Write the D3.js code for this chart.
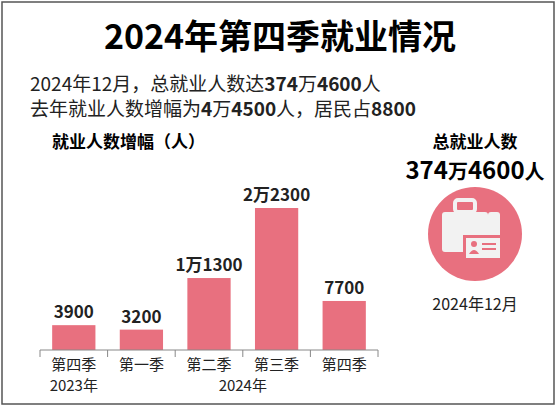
<!DOCTYPE html>
<html><head><meta charset="utf-8">
<script src="https://cdn.jsdelivr.net/npm/d3@7"></script>
<style>
body{margin:0;background:#fff;font-family:"Noto Sans CJK SC",sans-serif;}
</style></head><body>
<svg id="c" width="560" height="410"></svg>
<script>
const categories = ["第四季", "第一季", "第二季", "第三季", "第四季"];
const values = [3900, 3200, 11300, 22300, 7700];
const valueLabels = ["3900", "3200", "1万1300", "2万2300", "7700"];
const yearLabels = [{text: "2023年", from: 0, to: 0}, {text: "2024年", from: 1, to: 4}];

const svg = d3.select("#c");
const pink = "#e8707f";
const font = "Noto Sans CJK SC";

// frame
svg.append("rect").attr("x", 2).attr("y", 2).attr("width", 552).attr("height", 402)
  .attr("fill", "#fff").attr("stroke", "#555").attr("stroke-width", 1.5);

svg.append("text").attr("x", 280).attr("y", 49).attr("text-anchor", "middle")
  .attr("font-family", font).attr("font-size", 34).attr("font-weight", 700)
  .text("2024年第四季就业情况");

function richLine(y, parts) {
  let t = svg.append("text").attr("x", 30).attr("y", y)
    .attr("font-family", font).attr("font-size", 19).attr("fill", "#222");
  parts.forEach(p => t.append("tspan").attr("font-weight", p[1] ? 700 : 400).text(p[0]));
}
richLine(91, [["2024年12月，总就业人数达", 0], ["374", 1], ["万", 0], ["4600", 1], ["人", 0]]);
richLine(116, [["去年就业人数增幅为", 0], ["4", 1], ["万", 0], ["4500", 1], ["人，居民占", 0], ["8800", 1]]);

svg.append("text").attr("x", 52).attr("y", 148).attr("font-family", font)
  .attr("font-size", 17).attr("font-weight", 700).text("就业人数增幅（人）");

const x = d3.scaleBand().domain(d3.range(values.length)).range([40, 378]).paddingInner(0.36).paddingOuter(0.18);
const y = d3.scaleLinear().domain([0, 22300]).range([350, 208]);

svg.selectAll("rect.bar").data(values).enter().append("rect").attr("class", "bar")
  .attr("x", (d, i) => x(i)).attr("width", x.bandwidth())
  .attr("y", d => y(d)).attr("height", d => y(0) - y(d)).attr("fill", pink);

svg.selectAll("text.val").data(valueLabels).enter().append("text")
  .attr("x", (d, i) => x(i) + x.bandwidth() / 2).attr("y", (d, i) => y(values[i]) - 7)
  .attr("text-anchor", "middle").attr("font-family", font).attr("font-size", 17)
  .attr("font-weight", 700).attr("fill", "#222").text(d => d);

svg.append("line").attr("x1", 40).attr("x2", 378).attr("y1", 350).attr("y2", 350)
  .attr("stroke", "#888");
const tickX = i => i === 0 ? 40 : (i === values.length ? 378 : x(i) - x.step() * x.paddingInner() / 2);
svg.selectAll("line.tk").data(d3.range(values.length + 1)).enter().append("line")
  .attr("x1", tickX).attr("x2", tickX)
  .attr("y1", 350).attr("y2", 357).attr("stroke", "#888");

svg.selectAll("text.cat").data(categories).enter().append("text")
  .attr("x", (d, i) => x(i) + x.bandwidth() / 2).attr("y", 370).attr("text-anchor", "middle")
  .attr("font-family", font).attr("font-size", 15).attr("fill", "#222").text(d => d);
svg.selectAll("text.yr").data(yearLabels).enter().append("text")
  .attr("x", d => (x(d.from) + x(d.to) + x.bandwidth()) / 2).attr("y", 391).attr("text-anchor", "middle")
  .attr("font-family", font).attr("font-size", 15).attr("fill", "#222").text(d => d.text);

// right panel
svg.append("text").attr("x", 475).attr("y", 148).attr("text-anchor", "middle").attr("font-family", font)
  .attr("font-size", 17).attr("font-weight", 700).text("总就业人数");
let big = svg.append("text").attr("x", 475).attr("y", 179).attr("text-anchor", "middle")
  .attr("font-family", font).attr("font-weight", 700).attr("font-size", 24);
big.append("tspan").text("374");
big.append("tspan").attr("font-size", 20).text("万");
big.append("tspan").text("4600");
big.append("tspan").attr("font-size", 20).text("人");

const g = svg.append("g").attr("transform", "translate(475,234)");
g.append("circle").attr("r", 47).attr("fill", pink);
g.append("rect").attr("x", -20).attr("y", -34).attr("width", 20).attr("height", 12).attr("rx", 3)
  .attr("fill", "none").attr("stroke", "#f2f2f2").attr("stroke-width", 4);
g.append("rect").attr("x", -33).attr("y", -22).attr("width", 46).attr("height", 40).attr("rx", 3).attr("fill", "#f2f2f2");
g.append("rect").attr("x", 13).attr("y", -22).attr("width", 12).attr("height", 40).attr("rx", 3).attr("fill", "#f2f2f2");
g.append("rect").attr("x", -12).attr("y", 1).attr("width", 40).attr("height", 26).attr("fill", pink);
g.append("rect").attr("x", -9).attr("y", 4).attr("width", 34).attr("height", 20).attr("fill", "#f2f2f2");
g.append("circle").attr("cx", -1).attr("cy", 10).attr("r", 3).attr("fill", pink);
g.append("path").attr("d", "M-6,20 Q-1,12 4,20 Z").attr("fill", pink);
g.append("rect").attr("x", 7).attr("y", 9).attr("width", 14).attr("height", 2).attr("fill", pink);
g.append("rect").attr("x", 7).attr("y", 14).attr("width", 14).attr("height", 2).attr("fill", pink);

svg.append("text").attr("x", 475).attr("y", 310).attr("text-anchor", "middle").attr("font-family", font)
  .attr("font-size", 16).attr("fill", "#222").text("2024年12月");
</script></body></html>
